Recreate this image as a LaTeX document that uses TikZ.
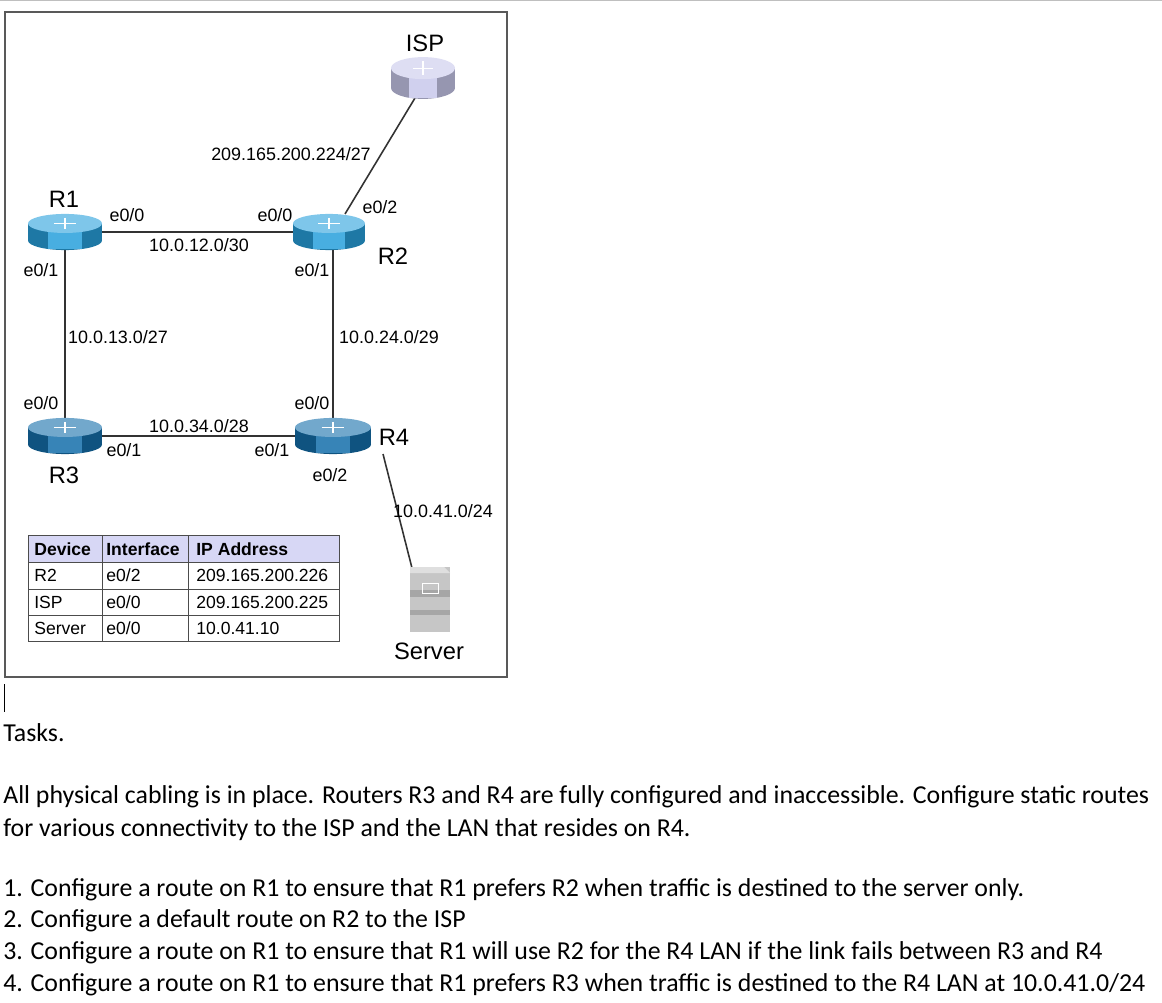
\documentclass[tikz,border=0pt]{standalone}
\usepackage{fontspec}
\setmainfont{Liberation Sans}
\newfontfamily\taskfont{Carlito}
\definecolor{rblue}{RGB}{40,160,220}
\definecolor{rdark}{RGB}{20,110,170}
\definecolor{isp}{RGB}{200,200,235}
\definecolor{hdr}{RGB}{215,215,245}
\tikzset{
  lbl/.style={font=\fontsize{10.2}{12}\selectfont, inner sep=1pt},
  rname/.style={font=\fontsize{13.5}{15}\selectfont, inner sep=1pt},
  link/.style={draw=black!80, line width=0.9pt},
  cell/.style={font=\fontsize{10}{12}\selectfont, anchor=west, inner sep=0pt}
}
% router icon: centre, half width, half height, colour
\newcommand{\drawrouter}[4]{
  \fill[#4!75!black] (#1) ++(0,#3*0.45) ellipse[x radius=#2, y radius=#3*0.5];
  \fill[#4!75!black] (#1) ++(-#2,-#3*0.45) rectangle ++(2*#2,#3*0.9);
  \fill[#4!85!white] (#1) ++(-#2*0.45,-#3*0.2) rectangle ++(#2*0.9,#3*1.1);
  \fill[#4!60!white] (#1) ++(0,-#3*0.45) ellipse[x radius=#2, y radius=#3*0.5];
  \draw[white, line width=0.6pt] (#1) ++(-#2*0.3,-#3*0.45) -- ++(#2*0.6,0) (#1) ++(0,-#3*0.75) -- ++(0,#3*0.6);
}
\begin{document}
\begin{tikzpicture}[x=0.02cm, y=-0.02cm]
	\useasboundingbox (0,0) rectangle (1162,1003);
	\draw[gray!50] (0,0.5) -- (1162,0.5);
	\draw[gray!70!black, line width=1pt] (5,12) rectangle (507,677);
	% Routers
		\node[rname] (isplbl) at (425,43) {ISP};
		\coordinate (isp) at (423,78);
		\coordinate (r1) at (65,232);
		\coordinate (r2) at (329,232);
		\coordinate (r3) at (65,436);
		\coordinate (r4) at (333,436);
		\coordinate (srv) at (428,600);
	% Enlaces
		\draw[link] (r1) -- (r2);
		\draw[link] (r1) -- (r3);
		\draw[link] (r3) -- (r4);
		\draw[link] (r2) ++(4,0) coordinate (r2b) -- (r4);
		\draw[link] (r2) ++(16,-18) coordinate (r2t) -- (415,98) coordinate (ispb);
		\draw[link] (r4) ++(50,18) coordinate (r4b) -- (413,572) coordinate (srvt);
	% Iconos
		\drawrouter{isp}{32}{22}{isp}
		\drawrouter{r1}{37}{19}{rblue}
		\drawrouter{r2}{36}{19}{rblue}
		\drawrouter{r3}{37}{19}{rdark}
		\drawrouter{r4}{38}{19}{rdark}
		\fill[gray!45] (410,567) rectangle (450,632);
		\fill[gray!25] (410,567) -- (444,567) -- (450,573) -- (410,573) -- cycle;
		\fill[gray!70] (410,590) rectangle (450,597);
		\fill[gray!70] (410,610) rectangle (450,615);
		\draw[white] (422,583) rectangle (438,593);
	% Nombres
		\node[rname] (n1) at (64,199) {R1};
		\node[rname] (n2) at (393,256) {R2};
		\node[rname] (n3) at (64,475) {R3};
		\node[rname] (n4) at (394,437) {R4};
		\node[rname] (ns) at (429,651) {Server};
	% Etiquetas
		\node[lbl] at (127,215) {e0/0};
		\node[lbl] at (275,215) {e0/0};
		\node[lbl] at (199,245) {10.0.12.0/30};
		\node[lbl] at (41,270) {e0/1};
		\node[lbl] at (312,270) {e0/1};
		\node[lbl] at (380,207) {e0/2};
		\node[lbl] at (291,154) {209.165.200.224/27};
		\node[lbl] at (118,337) {10.0.13.0/27};
		\node[lbl] at (389,337) {10.0.24.0/29};
		\node[lbl] at (41,403) {e0/0};
		\node[lbl] at (312,403) {e0/0};
		\node[lbl] at (199,426) {10.0.34.0/28};
		\node[lbl] at (124,450) {e0/1};
		\node[lbl] at (272,450) {e0/1};
		\node[lbl] at (330,475) {e0/2};
		\node[lbl] at (443,511) {10.0.41.0/24};
	% Tabla
		\fill[hdr] (28,535) rectangle (339,562);
		\draw[black!70] (28,535) rectangle (339,641);
		\foreach \y in {562,589,615} \draw[black!70] (28,\y) -- (339,\y);
		\foreach \x in {102,188} \draw[black!70] (\x,535) -- (\x,641);
		\node[cell, font=\fontsize{10}{12}\selectfont\bfseries] at (34,549) {Device};
		\node[cell, font=\fontsize{10}{12}\selectfont\bfseries] at (106,549) {Interface};
		\node[cell, font=\fontsize{10}{12}\selectfont\bfseries] at (196,549) {IP Address};
		\foreach \d/\i/\a [count=\k] in {R2/e0\slash 2/209.165.200.226, ISP/e0\slash 0/209.165.200.225, Server/e0\slash 0/10.0.41.10} {
			\node[cell] at (34,549+26.5*\k) {\d};
			\node[cell] at (106,549+26.5*\k) {\i};
			\node[cell] at (196,549+26.5*\k) {\a};
		}
	% Texto
		\draw (4,684) -- (4,712);
		\begin{scope}[every node/.style={anchor=west, inner sep=0pt, font=\taskfont\fontsize{14.7}{16}\selectfont}]
			\node at (3,733) {Tasks.};
			\node at (3,797) {All physical cabling is in place. Routers R3 and R4 are fully configured and inaccessible. Configure static routes};
			\node at (3,830) {for various connectivity to the ISP and the LAN that resides on R4.};
			\node at (3,890) {1. Configure a route on R1 to ensure that R1 prefers R2 when traffic is destined to the server only.};
			\node at (3,921) {2. Configure a default route on R2 to the ISP};
			\node at (3,953) {3. Configure a route on R1 to ensure that R1 will use R2 for the R4 LAN if the link fails between R3 and R4};
			\node at (3,985) {4. Configure a route on R1 to ensure that R1 prefers R3 when traffic is destined to the R4 LAN at 10.0.41.0/24};
		\end{scope}
\end{tikzpicture}
\end{document}
